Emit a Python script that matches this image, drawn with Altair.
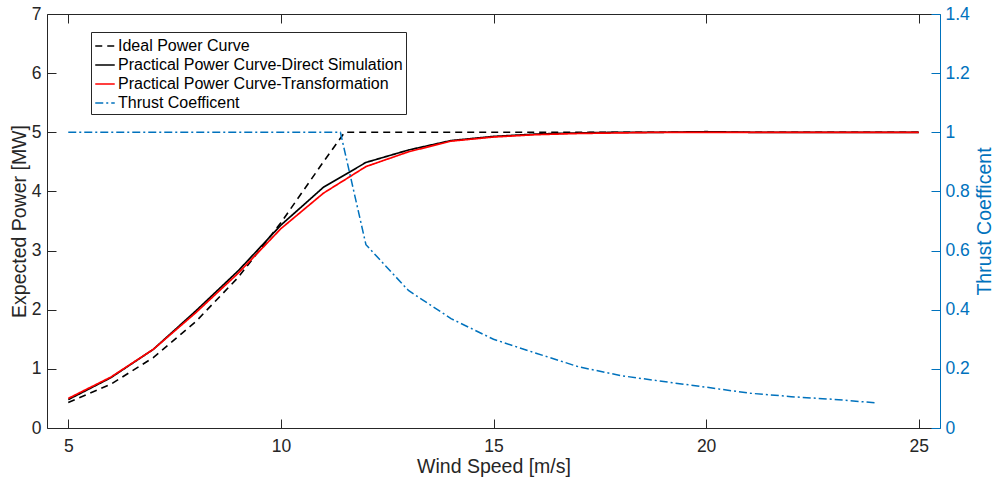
import altair as alt
import pandas as pd

# ---------------- data ----------------
wind_speed = [5, 6, 7, 8, 9, 10, 11, 12, 13, 14, 15, 16, 17, 18, 19, 20, 21, 22, 23, 24, 25]
direct_power = [0.48, 0.85, 1.33, 1.98, 2.66, 3.43, 4.07, 4.49, 4.70, 4.86, 4.93, 4.97, 4.99,
                5.00, 5.00, 5.01, 5.00, 5.00, 5.00, 5.00, 5.00]
transform_power = [0.50, 0.86, 1.33, 1.95, 2.62, 3.37, 3.97, 4.42, 4.67, 4.85, 4.92, 4.96, 4.98,
                   4.99, 5.00, 5.00, 5.00, 5.00, 5.00, 5.00, 5.00]

ideal_speed = [5, 6, 7, 8, 9, 10, 11, 11.5, 12, 13, 14, 15, 16, 17, 18, 19, 20, 21, 22, 23, 24, 25]
ideal_power = [0.43, 0.74, 1.19, 1.80, 2.55, 3.47, 4.50, 5.00, 5.00, 5.00, 5.00, 5.00, 5.00, 5.00,
               5.00, 5.00, 5.00, 5.00, 5.00, 5.00, 5.00, 5.00]

thrust_speed = [5, 6, 7, 8, 9, 10, 11, 11.4, 12, 13, 14, 15, 16, 17, 18, 19, 20, 21, 22, 23, 24]
thrust_coef = [1.0, 1.0, 1.0, 1.0, 1.0, 1.0, 1.0, 1.0, 0.62, 0.465, 0.37, 0.30, 0.253, 0.207,
               0.177, 0.157, 0.138, 0.118, 0.106, 0.097, 0.085]

series_names = ["Ideal Power Curve", "Practical Power Curve-Direct Simulation",
                "Practical Power Curve-Transformation", "Thrust Coefficent"]
series_colors = ["#000000", "#000000", "#FF0000", "#0072BD"]
series_dashes = [[7, 5], [1, 0], [1, 0], [8, 3, 2, 3]]

x_ticks = [5, 10, 15, 20, 25]
power_ticks = [0, 1, 2, 3, 4, 5, 6, 7]
thrust_ticks = [0, 0.2, 0.4, 0.6, 0.8, 1.0, 1.2, 1.4]

# ---------------- styling ----------------
FONT = "Liberation Sans"
AX = "#262626"
BLUE = "#0072BD"

x_scale = alt.Scale(domain=[4.5, 25.5], nice=False, zero=False)
p_scale = alt.Scale(domain=[0, 7], nice=False)
t_scale = alt.Scale(domain=[0, 1.4], nice=False)
color_scale = alt.Scale(domain=series_names, range=series_colors)
dash_scale = alt.Scale(domain=series_names, range=series_dashes)

legend = alt.Legend(title=None, orient="none", legendX=44, legendY=18,
                    symbolType="stroke", symbolSize=380, symbolStrokeWidth=1.6,
                    labelFont=FONT, labelFontSize=16, labelColor="#000000",
                    fillColor="white", strokeColor=AX, padding=3, rowPadding=0,
                    labelOffset=2, labelLimit=400)

ax_bottom_ticks = alt.Axis(orient="bottom", values=x_ticks, offset=-9, tickSize=9, domain=False,
                           labelPadding=9, title="Wind Speed [m/s]", titlePadding=3, format="d")
ax_top_ticks = alt.Axis(orient="top", values=x_ticks, offset=-9, tickSize=9, domain=False,
                        labels=False, title=None)
ax_bottom_domain = alt.Axis(orient="bottom", domain=True, ticks=False, labels=False, title=None)
ax_top_domain = alt.Axis(orient="top", domain=True, ticks=False, labels=False, title=None)

ay_left_ticks = alt.Axis(orient="left", values=power_ticks, offset=-9, tickSize=9, domain=False,
                         labelPadding=6, title="Expected Power [MW]", titlePadding=2, format="d")
ay_left_domain = alt.Axis(orient="left", domain=True, ticks=False, labels=False, title=None)
ay_right_ticks = alt.Axis(orient="right", values=thrust_ticks, offset=-9, tickSize=9, domain=False,
                          labelPadding=5, title="Thrust Coefficent", titlePadding=6,
                          titleAngle=270, titleBaseline="top",
                          labelColor=BLUE, tickColor=BLUE, titleColor=BLUE, format="~g")
ay_right_domain = alt.Axis(orient="right", domain=True, domainColor=BLUE, ticks=False,
                           labels=False, title=None)

df_ideal = pd.DataFrame({"speed": ideal_speed, "power": ideal_power, "series": series_names[0]})
df_direct = pd.DataFrame({"speed": wind_speed, "power": direct_power, "series": series_names[1]})
df_trans = pd.DataFrame({"speed": wind_speed, "power": transform_power, "series": series_names[2]})
df_thrust = pd.DataFrame({"speed": thrust_speed, "thrust": thrust_coef, "series": series_names[3]})


def style_enc():
    return dict(
        color=alt.Color("series:N", scale=color_scale, legend=legend),
        strokeDash=alt.StrokeDash("series:N", scale=dash_scale, legend=legend),
    )


l_ideal = alt.Chart(df_ideal).mark_line(strokeWidth=1.6).encode(
    x=alt.X("speed:Q", scale=x_scale, axis=ax_bottom_ticks),
    y=alt.Y("power:Q", scale=p_scale, axis=ay_left_ticks),
    **style_enc(),
)
l_direct = alt.Chart(df_direct).mark_line(strokeWidth=1.7).encode(
    x=alt.X("speed:Q", scale=x_scale, axis=ax_top_ticks),
    y=alt.Y("power:Q", scale=p_scale, axis=ay_left_domain),
    **style_enc(),
)
l_trans = alt.Chart(df_trans).mark_line(strokeWidth=1.7).encode(
    x=alt.X("speed:Q", scale=x_scale, axis=ax_bottom_domain),
    y=alt.Y("power:Q", scale=p_scale, axis=None),
    **style_enc(),
)
power = alt.layer(l_ideal, l_direct, l_trans).resolve_axis(x="independent", y="independent")

t_line = alt.Chart(df_thrust).mark_line(strokeWidth=1.5).encode(
    x=alt.X("speed:Q", scale=x_scale, axis=None),
    y=alt.Y("thrust:Q", scale=t_scale, axis=ay_right_ticks),
    **style_enc(),
)
t_frame = alt.Chart(df_thrust).mark_line(strokeOpacity=0).encode(
    x=alt.X("speed:Q", scale=x_scale, axis=ax_top_domain),
    y=alt.Y("thrust:Q", scale=t_scale, axis=ay_right_domain),
)
thrust = alt.layer(t_line, t_frame).resolve_axis(x="independent", y="independent")

chart = (
    alt.layer(power, thrust)
    .resolve_scale(y="independent")
    .resolve_axis(x="independent", y="independent")
    .properties(width=893, height=414,
                padding={"left": 47, "top": 14, "right": 57, "bottom": 56},
                autosize=alt.AutoSizeParams(type="none"), background="white")
    .configure_view(stroke=None)
    .configure_axis(grid=False, labelFont=FONT, labelFontSize=17.5, labelColor=AX,
                    titleFont=FONT, titleFontSize=19.5, titleFontWeight="normal", titleColor=AX,
                    tickColor=AX, domainColor=AX, tickWidth=1, domainWidth=1)
)

chart.save("out.html", embed_options={"renderer": "svg", "actions": False})
